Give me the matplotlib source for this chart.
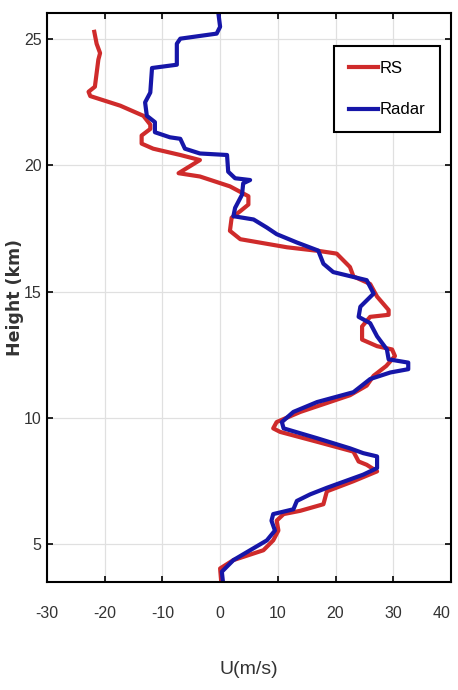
import numpy as np
import matplotlib
matplotlib.use('Agg')
import matplotlib.pyplot as plt
from matplotlib import font_manager

# --- data (bottom -> top) ---
rs_height = [3.5, 4.05, 4.38, 4.77, 5.16, 5.55, 5.94, 6.2, 6.33, 6.59, 7.1, 7.5,
             7.89, 8.15, 8.28, 8.67, 9.06, 9.45, 9.59, 9.84, 10.24, 10.9, 11.28,
             11.67, 12.06, 12.45, 12.71, 12.84, 13.1, 13.62, 14.0, 14.08, 14.27,
             14.8, 15.3, 15.6, 15.97, 16.5, 16.6, 16.75, 17.07, 17.4, 17.92,
             18.18, 18.44, 18.77, 19.16, 19.55, 19.68, 20.2, 20.4, 20.65, 20.85,
             21.17, 21.43, 21.6, 21.95, 22.35, 22.73, 22.9, 23.1, 24.17, 24.43,
             24.8, 25.27]
rs_u = [0.2, 0.0, 2.3, 7.5, 9.2, 10.1, 9.8, 11.0, 13.9, 17.9, 18.5, 23.1,
        27.2, 25.4, 24.0, 23.1, 16.8, 10.4, 9.2, 9.8, 13.9, 22.5, 25.4,
        26.6, 28.8, 30.3, 29.8, 27.2, 24.6, 24.6, 26.0, 29.2, 29.2,
        27.2, 26.0, 23.1, 22.5, 20.2, 17.3, 11.6, 3.5, 1.7, 2.0,
        3.5, 4.9, 4.9, 1.7, -3.5, -7.2, -3.5, -6.9, -11.6, -13.6,
        -13.6, -12.1, -12.1, -13.3, -17.3, -22.5, -22.8, -21.7, -21.1, -20.8,
        -21.4, -21.8]

radar_height = [3.5, 3.92, 4.38, 4.77, 5.16, 5.55, 5.94, 6.2, 6.39, 6.72, 6.98,
                7.24, 7.76, 8.02, 8.48, 8.61, 8.8, 9.2, 9.59, 9.84, 10.24, 10.63,
                11.02, 11.54, 11.8, 11.93, 12.19, 12.32, 12.71, 13.23, 13.75, 14.0,
                14.4, 14.92, 15.45, 15.77, 16.1, 16.62, 16.94, 17.27, 17.53, 17.85,
                17.98, 18.31, 18.83, 19.28, 19.41, 19.48, 19.74, 20.4, 20.46, 20.65,
                21.04, 21.1, 21.3, 21.7, 21.95, 22.48, 22.87, 23.84, 23.97, 24.8,
                25.0, 25.2, 25.47, 26.0]
radar_u = [0.5, 0.3, 2.3, 5.2, 8.1, 9.5, 8.9, 9.2, 12.7, 13.3, 15.6,
           18.5, 24.8, 27.2, 27.2, 24.8, 22.5, 16.8, 11.0, 10.7, 12.7, 16.8,
           23.1, 26.0, 29.5, 32.6, 32.6, 29.2, 28.9, 27.2, 26.0, 24.0,
           24.3, 26.6, 25.4, 19.6, 17.9, 17.0, 13.3, 9.8, 8.1, 5.8,
           2.3, 2.6, 3.8, 4.0, 5.2, 2.6, 1.4, 1.2, -3.5, -6.1,
           -6.9, -8.7, -11.3, -11.3, -12.7, -13.0, -12.1, -11.8, -7.5, -7.5,
           -6.9, -0.6, 0.0, -0.3]

x_ticks = [-30, -20, -10, 0, 10, 20, 30, 40]
y_ticks = [5, 10, 15, 20, 25]

RED = '#cf2b2b'
BLUE = '#1616a8'

# narrow font if we have it, otherwise plain Liberation Sans
names = {f.name for f in font_manager.fontManager.ttflist}
narrow = 'Liberation Sans Narrow' if 'Liberation Sans Narrow' in names else 'Liberation Sans'

plt.rcParams['axes.unicode_minus'] = False

fig = plt.figure(figsize=(4.58, 6.90), dpi=100)
ax = fig.add_axes([0.1026, 0.156, 0.882, 0.8246])

ax.plot(rs_u, rs_height, color=RED, lw=3.0, label='RS', solid_joinstyle='round')
ax.plot(radar_u, radar_height, color=BLUE, lw=3.0, label='Radar', solid_joinstyle='round')

ax.set_xlim(-30, 40)
ax.set_ylim(3.5, 26)
ax.set_xticks(x_ticks)
ax.set_yticks(y_ticks)
ax.grid(True, color='#e0e0e0', lw=0.9)
ax.set_axisbelow(True)

ax.tick_params(direction='in', length=4, width=1.2, top=True, right=True, colors='black')
ax.tick_params(axis='x', pad=17, labelcolor='#333333')
ax.tick_params(axis='y', pad=4, labelcolor='#333333')
for lab in ax.get_xticklabels() + ax.get_yticklabels():
    lab.set_fontfamily(narrow)
    lab.set_fontsize(11.5)
# last x label sits right on the figure edge, keep it inside
ax.get_xticklabels()[-1].set_horizontalalignment('right')
ax.get_xticklabels()[-1].set_x(40.8)

for sp in ax.spines.values():
    sp.set_linewidth(1.5)

ax.set_xlabel('U(m/s)', fontfamily=narrow, fontsize=14, color='#333333', va='center')
ax.xaxis.set_label_coords(0.5, -0.154)
ax.set_ylabel('Height (km)', fontfamily='DejaVu Sans', fontweight='bold', fontsize=12.5,
              color='#333333', va='center')
ax.yaxis.set_label_coords(-0.08, 0.5)

leg = ax.legend(loc='upper right', bbox_to_anchor=(0.973, 0.943), fancybox=False,
                edgecolor='black', framealpha=1, handlelength=1.7, handletextpad=0.1,
                labelspacing=1.6, borderpad=0.9, borderaxespad=0,
                prop={'family': narrow, 'size': 12})
leg.get_frame().set_linewidth(1.5)

fig.savefig('out.png', dpi=100)
